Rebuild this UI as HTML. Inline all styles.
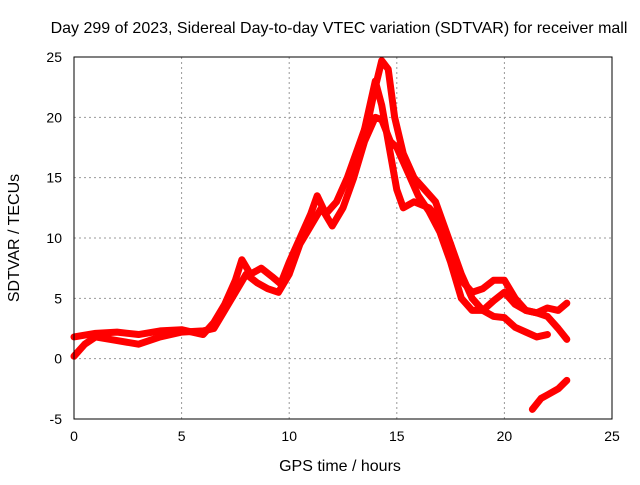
<!DOCTYPE html>
<html><head><meta charset="utf-8"><style>
body{margin:0;background:#fff}
svg text{font-family:"Liberation Sans",sans-serif;font-size:14px;fill:#000}
svg text.big{font-size:16px}
</style></head><body>
<svg id="chart" width="640" height="480" xmlns="http://www.w3.org/2000/svg">
<rect width="640" height="480" fill="#fff"/>
<text class="big" x="339" y="33" text-anchor="middle">Day 299 of 2023, Sidereal Day-to-day VTEC variation (SDTVAR) for receiver mall</text>
<text class="big" x="340" y="471" text-anchor="middle">GPS time / hours</text>
<text class="big" transform="translate(19,238) rotate(-90)" text-anchor="middle">SDTVAR / TECUs</text>
<g id="grid"></g><g id="series"></g>
<rect x="74" y="57" width="538" height="362" fill="none" stroke="#000" stroke-width="1"/>
</svg>
<script>
const xTicks=[0,5,10,15,20,25];
const yTicks=[-5,0,5,10,15,20,25];
const seriesA_x=[0,1,2,3,4,5,6,6.5,7,7.5,7.8,8.2,8.7,9.2,9.6,10,10.5,11,11.3,11.7,12.2,12.7,13.2,13.7,14,14.3,14.6,14.9,15.3,15.8,16.3,16.8,17.2,17.6,18,18.5,19,19.5,20,20.5,21,21.5,22];
const seriesA_y=[1.8,2.1,2.2,2.0,2.3,2.4,2.0,3.0,4.5,6.5,8.2,7.0,7.5,6.8,6.2,8,10,12,13.5,12,13,15,17.5,20,22.5,24.7,24,20,17,15,14,13,11,9,7,5,4,3.5,3.4,2.6,2.2,1.8,2.0];
const seriesB_x=[0,0.5,1,2,3,4,5,6,6.5,7,7.5,8,8.5,9,9.5,10,10.5,11,11.5,12,12.5,13,13.5,14,14.3,14.7,15,15.5,16,16.5,17,17.5,18,18.5,19,19.5,20,20.5,21,21.5,22,22.5,22.9];
const seriesB_y=[0.2,1.2,1.8,1.5,1.2,1.8,2.2,2.3,2.5,4,5.5,7,6.3,5.8,5.5,7,9.5,11,12.5,11,12.5,15,18,20,19.8,18,17.5,15.5,13.5,12.2,10.5,8,5,4,4,4.8,5.5,4.5,4,3.8,4.2,4,4.6];
const seriesC_x=[13.5,14,14.3,14.7,15,15.3,15.8,16.5,17,17.5,18,18.5,19,19.5,20,20.5,21,21.5,22,22.5,22.9];
const seriesC_y=[19,23,21,17,14,12.5,13,12.5,11.5,9.5,6.5,5.5,5.8,6.5,6.5,5,4,3.8,3.5,2.5,1.6];
const seriesD_x=[21.3,21.7,22,22.5,22.9];
const seriesD_y=[-4.2,-3.3,-3,-2.5,-1.8];
const X=v=>74+v*538/25, Y=v=>57+(25-v)*362/30;
const NS="http://www.w3.org/2000/svg";
const g=document.getElementById('grid'), s=document.getElementById('series');
function mk(tag,attrs,parent){const e=document.createElementNS(NS,tag);for(const k in attrs)e.setAttribute(k,attrs[k]);parent.appendChild(e);return e;}
xTicks.forEach(t=>{
  if(t>0&&t<25){const l=mk('line',{x1:X(t),x2:X(t),y1:57,y2:419,stroke:'#999','stroke-dasharray':'2,3'},g);
  
  }
  const tx=mk('text',{x:X(t),y:441,'text-anchor':'middle'},g);tx.textContent=t;
  
  
});
yTicks.forEach(t=>{
  if(t>-5&&t<25){const l=mk('line',{x1:74,x2:612,y1:Y(t),y2:Y(t),stroke:'#999','stroke-dasharray':'2,3'},g);
  
  }
  const tx=mk('text',{x:62,y:Y(t)+5,'text-anchor':'end'},g);tx.textContent=t;
  
  
});
[[seriesA_x,seriesA_y,'series-a'],[seriesB_x,seriesB_y,'series-b'],[seriesC_x,seriesC_y,'series-c'],[seriesD_x,seriesD_y,'series-d']].forEach(([xs,ys,n])=>{
  const p=mk('polyline',{points:xs.map((x,i)=>X(x)+','+Y(ys[i])).join(' '),fill:'none',stroke:'#f00','stroke-width':7,'stroke-linejoin':'round','stroke-linecap':'round'},s);
  
  
});
</script>
</body></html>
